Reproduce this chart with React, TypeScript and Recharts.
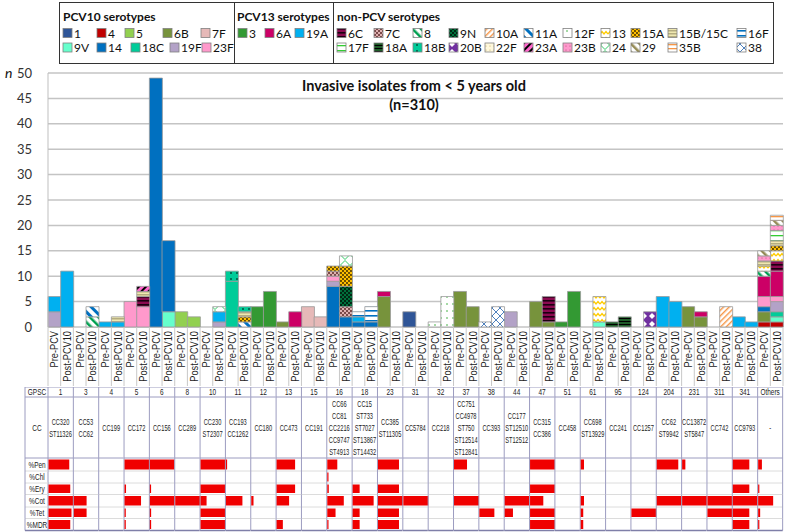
import React from 'react';
import { BarChart, Bar, XAxis, YAxis, CartesianGrid } from 'recharts';

// ---- data -------------------------------------------------------------
const groups = ['1', '3', '4', '5', '6', '8', '10', '11', '12', '13', '15', '16', '18', '23', '31', '32', '37', '38', '44', '47', '51', '61', '95', '124', '204', '231', '311', '341', 'Others'];
const periods = ['Pre-PCV', 'Post-PCV10'];

const pcv10 = ['1', '4', '5', '6B', '7F', '9V', '14', '18C', '19F', '23F'];
const pcv13 = ['3', '6A', '19A'];
const nonPcv = ['6C', '7C', '8', '9N', '10A', '11A', '12F', '13', '15A', '15B/15C', '16F', '17F', '18A', '18B', '20B', '22F', '23A', '23B', '24', '29', '35B', '38'];
const serotypes = [...pcv10, ...pcv13, ...nonPcv];

// isolates per serotype, one entry per GPSC
const prePCV: Record<string, number>[] = [
  { '19F': 3, '19A': 3 },
  {},
  { '19A': 1 },
  { '23F': 5 },
  { '14': 49 },
  { '5': 3 },
  {},
  { '18C': 9, '18B': 2 },
  { '3': 4 },
  { '6B': 1 },
  { '7F': 4 },
  { '14': 8, '19F': 1, '23F': 1, '7C': 1, '15A': 1 },
  { '14': 1, '19A': 1, '16F': 1 },
  { '6B': 6, '6A': 1 },
  { '1': 3 },
  { '12F': 1 },
  { '6B': 7 },
  { '38': 1 },
  { '19F': 3 },
  { '6B': 5 },
  { '3': 1 },
  {},
  { '18A': 1 },
  {},
  { '19A': 6 },
  { '6B': 4 },
  {},
  { '19A': 2 },
  { '4': 1, '6B': 2, '14': 1, '23F': 2, '6A': 4, '8': 1, '13': 1, '15B/15C': 1, '23B': 1, '29': 1 },
];
const postPCV10: Record<string, number>[] = [
  { '19A': 11 },
  { '8': 2, '11A': 2 },
  { '19A': 1, '15B/15C': 1 },
  { '23F': 4, '6C': 2, '15B/15C': 1, '23A': 1 },
  { '9V': 3, '14': 14 },
  { '5': 2 },
  { '19F': 1, '19A': 2, '24': 1 },
  { '11A': 1, '15A': 1, '15B/15C': 1, '18B': 1 },
  { '3': 7 },
  { '6A': 3 },
  { '7F': 2 },
  { '14': 2, '7C': 2, '9N': 4, '15A': 4, '24': 2 },
  { '14': 1, '16F': 3 },
  {},
  {},
  { '12F': 6 },
  { '6B': 4 },
  { '38': 4 },
  {},
  { '6B': 1, '6C': 5 },
  { '3': 7 },
  { '9V': 1, '13': 5 },
  { '18A': 2 },
  { '20B': 3 },
  { '19A': 5 },
  { '6B': 2, '6A': 1 },
  { '10A': 4 },
  { '19A': 1 },
  { '4': 1, '9V': 1, '18C': 1, '19F': 2, '23F': 1, '6A': 5, '6C': 2, '13': 2, '15A': 1, '15B/15C': 1, '17F': 2, '23B': 1, '29': 1, '35B': 1 },
];

const ccLabels = [
  ['CC320', 'ST11326'], ['CC53', 'CC62'], ['CC199'], ['CC172'], ['CC156'], ['CC289'], ['CC230', 'ST2307'],
  ['CC193', 'CC1262'], ['CC180'], ['CC473'], ['CC191'], ['CC66', 'CC81', 'CC2216', 'CC9747', 'ST4913'],
  ['CC15', 'ST733', 'ST7027', 'ST13867', 'ST14432'], ['CC385', 'ST11305'], ['CC5784'], ['CC218'],
  ['CC751', 'CC4978', 'ST750', 'ST12514', 'ST12841'], ['CC393'], ['CC177', 'ST12510', 'ST12512'],
  ['CC315', 'CC386'], ['CC458'], ['CC698', 'ST13929'], ['CC241'], ['CC1257'], ['CC62', 'ST9942'],
  ['CC13872', 'ST5847'], ['CC742'], ['CC9793'], ['-'],
];

// % resistant per GPSC
const pen = [83, 0, 0, 100, 98, 0, 100, 4, 0, 74, 0, 40, 0, 84, 0, 0, 52, 0, 0, 100, 0, 13, 0, 0, 86, 13, 0, 66, 15];
const chl = [0, 0, 0, 0, 0, 0, 0, 0, 0, 0, 0, 4, 0, 0, 0, 0, 0, 0, 0, 0, 0, 0, 0, 0, 0, 0, 0, 0, 0];
const ery = [87, 0, 0, 6, 4, 0, 100, 0, 0, 74, 0, 6, 28, 84, 0, 0, 0, 0, 0, 100, 0, 0, 0, 0, 0, 0, 0, 66, 4];
const cot = [100, 51, 0, 66, 100, 100, 24, 66, 9, 50, 0, 66, 84, 100, 100, 0, 100, 0, 100, 53, 0, 13, 0, 0, 100, 100, 100, 100, 60];
const tet = [92, 51, 0, 5, 5, 0, 100, 0, 0, 0, 0, 33, 28, 84, 0, 0, 0, 60, 33, 100, 0, 10, 0, 100, 0, 0, 100, 66, 8];
const mdr = [87, 0, 0, 5, 5, 0, 100, 0, 0, 25, 0, 4, 28, 84, 0, 0, 0, 0, 0, 100, 0, 10, 0, 0, 0, 0, 0, 66, 3];

// ---- styles ------------------------------------------------------------
const FONT = 'Lato, "Open Sans", sans-serif';
const SANS = '"Liberation Sans", Arial, sans-serif';

const solid: Record<string, string> = {
  '1': '#2f5597', '4': '#c00000', '5': '#92d050', '6B': '#77933c', '7F': '#e6b9b8',
  '9V': '#66ffcc', '14': '#0070c0', '18C': '#00cc99', '19F': '#b3a2c7', '23F': '#ff99cc',
  '3': '#339933', '6A': '#cc0066', '19A': '#00b0f0',
};

const safe = (s: string) => s.replace(/\W/g, '');
const fillFor = (s: string, p: string) => solid[s] ?? `url(#${p}-${safe(s)})`;

function patternDefs(p: string) {
  const P = (id: string, w: number, h: number, body: React.ReactNode, rot?: number) => (
    <pattern key={id} id={`${p}-${safe(id)}`} width={w} height={h} patternUnits="userSpaceOnUse"
      patternTransform={rot ? `rotate(${rot})` : undefined}>
      {body}
    </pattern>
  );
  return [
    P('6C', 4, 4, <><rect width="4" height="4" fill="#8b0a50" /><rect width="4" height="1.6" fill="#1a0010" /></>),
    P('7C', 4, 4, <><rect width="4" height="4" fill="#deb0b0" /><rect width="2" height="2" fill="#7a4a4a" /><rect x="2" y="2" width="2" height="2" fill="#7a4a4a" /></>),
    P('8', 6, 6, <><rect width="6" height="6" fill="#fff" /><rect width="2.5" height="6" fill="#00a050" /></>, -45),
    P('9N', 4, 4, <><rect width="4" height="4" fill="#00703c" /><rect width="2" height="2" fill="#002814" /><rect x="2" y="2" width="2" height="2" fill="#002814" /></>),
    P('10A', 4, 4, <><rect width="4" height="4" fill="#fff" /><rect width="1.4" height="4" fill="#f79646" /></>, 45),
    P('11A', 7, 7, <><rect width="7" height="7" fill="#fff" /><rect width="3" height="7" fill="#0070c0" /></>, -45),
    P('12F', 6, 7, <><rect width="6" height="7" fill="#fff" /><circle cx="3" cy="3" r="0.8" fill="#33aa33" /></>),
    P('13', 8, 6, <><rect width="8" height="6" fill="#fff" /><polyline points="0,4 2,1.5 4,4 6,1.5 8,4" fill="none" stroke="#ffcc00" strokeWidth="1.3" /></>),
    P('15A', 4, 4, <><rect width="4" height="4" fill="#ffc000" /><circle cx="1" cy="1" r="0.9" fill="#2a1c00" /><circle cx="3" cy="3" r="0.9" fill="#2a1c00" /></>),
    P('15B/15C', 3, 3, <><rect width="3" height="3" fill="#efe8b0" /><rect width="3" height="1.5" fill="#b5ad80" /></>),
    P('16F', 5, 5, <><rect width="5" height="5" fill="#fff" /><rect width="5" height="1.6" fill="#0070c0" /></>),
    P('17F', 5, 5, <><rect width="5" height="5" fill="#fff" /><rect width="5" height="1.3" fill="#33cc33" /></>),
    P('18A', 3, 3, <><rect width="3" height="3" fill="#1e5b28" /><rect width="3" height="1" fill="#000" /></>),
    P('18B', 6, 6, <><rect width="6" height="6" fill="#00cc99" /><circle cx="3" cy="3" r="0.8" fill="#000" /></>),
    P('20B', 8, 8, <><rect width="8" height="8" fill="#7030a0" /><polygon points="4,1 7,4 4,7 1,4" fill="#fff" /></>),
    P('22F', 4, 4, <><rect width="4" height="4" fill="#fff8dc" /><circle cx="2" cy="2" r="0.6" fill="#c0b060" /></>),
    P('23A', 5, 5, <><rect width="5" height="5" fill="#ff66cc" /><rect width="2" height="5" fill="#000" /></>, 45),
    P('23B', 4, 4, <><rect width="4" height="4" fill="#ff99cc" /><circle cx="2" cy="2" r="0.5" fill="#a0406a" /></>),
    P('24', 10, 10, <><rect width="10" height="10" fill="#fff" /><polygon points="5,0.5 9.5,5 5,9.5 0.5,5" fill="none" stroke="#33cc66" strokeWidth="1" /></>),
    P('29', 6, 6, <><rect width="6" height="6" fill="#fff" /><rect width="2.5" height="6" fill="#948a54" /></>, -45),
    P('35B', 4, 4, <><rect width="4" height="4" fill="#fff" /><rect width="4" height="1.3" fill="#f79646" /></>),
    P('38', 8, 8, <><rect width="8" height="8" fill="#fff" /><path d="M0,0 L8,8 M8,0 L0,8" stroke="#4f81bd" strokeWidth="1" /></>),
  ];
}

// condensed text (no narrow font installed, so squeeze a regular one)
const NText = ({ x, y, children, size = 9, sx = 0.62, anchor = 'middle' }: any) => (
  <text transform={`translate(${x},${y}) scale(${sx},1)`} dy="0.35em" textAnchor={anchor}
    fontSize={size} fontFamily={SANS} fill="#222">{children}</text>
);

// ---- top chart -----------------------------------------------------------
const barRows = groups.flatMap((g, gi) =>
  [prePCV[gi], postPCV10[gi]].map((counts, pi) => {
    const row: Record<string, any> = { id: `${gi}-${pi}` };
    serotypes.forEach((s, si) => { row['s' + si] = counts[s] ?? 0; });
    return row;
  }),
);

const PLOT_L = 48;
const PLOT_R = 783;
const BAND = (PLOT_R - PLOT_L) / barRows.length;

const XTick = (props: any) => {
  const { x, y, payload } = props;
  const [gi, pi] = String(payload.value).split('-').map(Number);
  const last = gi === groups.length - 1 && pi === 1;
  return (
    <g>
      <line x1={x - BAND / 2} x2={x - BAND / 2} y1={y - 4} y2={y + 55} stroke="#c8c8c8" />
      {last && <line x1={x + BAND / 2} x2={x + BAND / 2} y1={y - 4} y2={y + 55} stroke="#c8c8c8" />}
      <text transform={`translate(${x + 4},${y}) rotate(-90) scale(0.84,1)`} textAnchor="end" fontSize={11}
        fontFamily={SANS} fill="#222">{periods[pi]}</text>
    </g>
  );
};

// ---- table ---------------------------------------------------------------
const tableRows = groups.map((g, i) => ({
  group: g, cc: ccLabels[i], pen: pen[i], chl: chl[i], ery: ery[i], cot: cot[i], tet: tet[i], mdr: mdr[i],
}));

const rowDefs = [
  { key: 'gpsc', label: 'GPSC', h: 10 },
  { key: 'cc', label: 'CC', h: 61 },
  { key: 'pen', label: '%Pen', h: 13 },
  { key: 'chl', label: '%Chl', h: 12 },
  { key: 'ery', label: '%Ery', h: 11.5 },
  { key: 'cot', label: '%Cot', h: 12.5 },
  { key: 'tet', label: '%Tet', h: 11.5 },
  { key: 'mdr', label: '%MDR', h: 12 },
];
const TOTAL = rowDefs.reduce((a, r) => a + r.h, 0);
const bottomUp = [...rowDefs].reverse();
const rowCenters: number[] = [];
{
  let acc = 0;
  bottomUp.forEach((r) => { rowCenters.push(acc + r.h / 2); acc += r.h; });
}

const VLINE = '#9c9cc0';
const HLINE = '#dcdcdc';

const RowLabel = (props: any) => {
  const { y, payload } = props;
  const idx = rowCenters.indexOf(payload.value);
  const r = bottomUp[idx];
  if (!r) return null;
  const top = y - r.h / 2;
  const isRes = !['gpsc', 'cc'].includes(r.key);
  return (
    <g>
      <line x1={25} x2={PLOT_L} y1={top} y2={top} stroke={isRes && r.key !== 'pen' ? HLINE : VLINE} />
      <line x1={25} x2={25} y1={top} y2={top + r.h} stroke={VLINE} />
      {r.key === 'mdr' && <line x1={25} x2={PLOT_L} y1={top + r.h} y2={top + r.h} stroke="#7f7fa8" strokeWidth={1.5} />}
      <NText x={37} y={y} size={9} sx={0.72}>{r.label}</NText>
    </g>
  );
};

const makeCell = (r: { key: string; h: number }) => (props: any) => {
  const { x, y, width, height, payload, index } = props;
  const isRes = !['gpsc', 'cc'].includes(r.key);
  const last = index === groups.length - 1;
  let content: React.ReactNode = null;
  if (r.key === 'gpsc') {
    content = <NText x={x + width / 2} y={y + height / 2} size={9} sx={0.72}>{payload.group}</NText>;
  } else if (r.key === 'cc') {
    const lines: string[] = payload.cc;
    const cy = y + height / 2;
    content = lines.map((t, i) => (
      <NText key={i} x={x + width / 2} y={cy + (i - (lines.length - 1) / 2) * 12} size={9.5} sx={0.6}>{t}</NText>
    ));
  } else {
    const pct = payload[r.key] as number;
    if (pct > 0) {
      content = <rect x={x + 0.5} y={y + 1.5} width={Math.max(1.2, (width * pct) / 100)} height={height - 3} fill="#f00000" />;
    }
  }
  return (
    <g>
      <line x1={x} x2={x + width} y1={y} y2={y} stroke={isRes && r.key !== 'pen' ? HLINE : VLINE} />
      <line x1={x} x2={x} y1={y} y2={y + height} stroke={VLINE} />
      {last && <line x1={x + width} x2={x + width} y1={y} y2={y + height} stroke={VLINE} />}
      {r.key === 'mdr' && <line x1={x} x2={x + width} y1={y + height} y2={y + height} stroke="#7f7fa8" strokeWidth={1.5} />}
      {content}
    </g>
  );
};

// ---- legend / overlay ------------------------------------------------------
const nonPcvX = [337, 374, 413, 449, 485, 524, 563, 601, 631, 668, 737];

const Swatch = ({ x, y, s, label }: { x: number; y: number; s: string; label: string }) => (
  <g>
    <rect x={x} y={y - 9} width={9} height={9} fill={fillFor(s, 'l')} stroke="#808080" strokeWidth={0.8} />
    <text x={x + 11} y={y} fontSize={12} fontFamily={FONT} fill="#111">{label}</text>
  </g>
);

const Overlay = () => {
  const pcv10X = [[63, 97, 125, 163, 201], [63, 97, 131, 170, 202]];
  const pcv13X = [238, 265, 295];
  return (
    <svg width={787} height={532} style={{ position: 'absolute', left: 0, top: 0, pointerEvents: 'none' }}>
      <defs>{patternDefs('l')}</defs>
      <rect x={59.5} y={2.5} width={714} height={61} fill="none" stroke="#333" />
      <line x1={234.5} x2={234.5} y1={2.5} y2={63.5} stroke="#333" />
      <line x1={333.5} x2={333.5} y1={2.5} y2={63.5} stroke="#333" />
      <text x={63} y={21} fontSize={12} fontWeight="bold" fontFamily={FONT} fill="#111">PCV10 serotypes</text>
      <text x={237} y={21} fontSize={12} fontWeight="bold" fontFamily={FONT} fill="#111">PCV13 serotypes</text>
      <text x={337} y={21} fontSize={12} fontWeight="bold" fontFamily={FONT} fill="#111">non-PCV serotypes</text>
      {pcv10.map((s, i) => (
        <Swatch key={s} x={pcv10X[Math.floor(i / 5)][i % 5]} y={37.5 + Math.floor(i / 5) * 14.5} s={s} label={s} />
      ))}
      {pcv13.map((s, i) => <Swatch key={s} x={pcv13X[i]} y={37.5} s={s} label={s} />)}
      {nonPcv.map((s, i) => (
        <Swatch key={s} x={nonPcvX[i % 11]} y={37.5 + Math.floor(i / 11) * 14.5} s={s} label={s} />
      ))}
      <text x={5} y={78} fontSize={14} fontStyle="italic" fontFamily={FONT} fill="#111">n</text>
      <text x={414} y={91} textAnchor="middle" fontSize={14.5} fontWeight="bold" fontFamily={FONT} fill="#111">Invasive isolates from &lt; 5 years old</text>
      <text x={414} y={110} textAnchor="middle" fontSize={14.5} fontWeight="bold" fontFamily={FONT} fill="#111">(n=310)</text>
    </svg>
  );
};

export default function App() {
  return (
    <div style={{ position: 'absolute', left: 0, top: 0, width: 787, height: 532, background: '#fff', overflow: 'hidden' }}>
      <div style={{ position: 'absolute', left: 0, top: 0 }}>
        <BarChart width={787} height={386} data={barRows} margin={{ top: 73, right: 4, bottom: 0, left: 0 }}
          barCategoryGap={0} barGap={0}>
          <defs>{patternDefs('b')}</defs>
          <CartesianGrid vertical={false} stroke="#c4c4c4" strokeWidth={1.5} />
          <XAxis dataKey="id" interval={0} tick={<XTick />} tickSize={0} tickMargin={4} height={59}
            axisLine={false} tickLine={false} />
          <YAxis domain={[0, 50]} ticks={[0, 5, 10, 15, 20, 25, 30, 35, 40, 45, 50]} width={48}
            axisLine={{ stroke: '#bfbfbf' }} tickLine={false} tickMargin={10}
            tick={{ fontSize: 13, fill: '#333', fontFamily: FONT }} />
          {serotypes.map((s, si) => (
            <Bar key={s} dataKey={'s' + si} name={s} stackId="a" fill={fillFor(s, 'b')}
              stroke="#9a9a9a" strokeWidth={0.8} isAnimationActive={false} />
          ))}
        </BarChart>
      </div>
      <div style={{ position: 'absolute', left: 0, top: 387 }}>
        <BarChart width={787} height={TOTAL + 2} data={tableRows} margin={{ top: 0, right: 4, bottom: 2, left: 0 }}
          barCategoryGap={0} barGap={0}>
          <XAxis dataKey="group" hide />
          <YAxis type="number" domain={[0, TOTAL]} ticks={rowCenters} interval={0} width={48}
            axisLine={false} tickLine={false} tick={<RowLabel />} />
          {bottomUp.map((r) => (
            <Bar key={r.key} dataKey={() => r.h} name={r.label} stackId="t" fill="none"
              shape={makeCell(r)} isAnimationActive={false} />
          ))}
        </BarChart>
      </div>
      <Overlay />
    </div>
  );
}
